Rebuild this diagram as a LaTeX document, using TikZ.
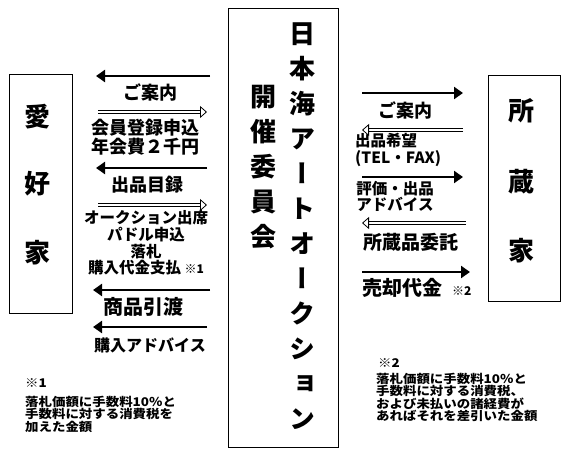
\documentclass[tikz,border=0pt]{standalone}
\usepackage{fontspec}
\newfontfamily\jp{Noto Sans CJK JP}
\newfontfamily\jpv{Noto Sans CJK JP}[RawFeature=+vert]
\newfontfamily\jpw{Noto Sans CJK JP}[FakeStretch=1.12]
\usetikzlibrary{arrows.meta, positioning}

\begin{document}
\begin{tikzpicture}[
    x=1pt, y=-1pt,
    party/.style={rectangle, draw, line width=0.9pt, inner sep=0pt},
    party text/.style={font=\jp\bfseries\fontsize{26}{26}\selectfont, inner sep=0pt},
    title text/.style={font=\jpv\bfseries\fontsize{26}{35}\selectfont, align=center, inner sep=0pt},
    flow text/.style={font=\jp\bfseries\fontsize{18}{19}\selectfont, align=center, inner sep=0pt},
    small flow text/.style={font=\jp\bfseries\fontsize{15.5}{16.7}\selectfont, align=center, inner sep=0pt},
    note text/.style={font=\jpw\bfseries\fontsize{12}{11}\selectfont, align=left, inner sep=0pt, anchor=west},
    solid arrow/.style={line width=2.5pt, -{Triangle[length=9pt, width=12pt]}},
    hollow arrow/.style={double, double distance=2.4pt, line width=0.7pt,
        -{Triangle[open, fill=white, length=7pt, width=12pt, line width=0.8pt]}}
]
    \useasboundingbox (0,0) rectangle (568,453);

    % Main boxes
    \node (fans) [party, minimum width=63pt, minimum height=239pt] at (40.5,193.5) {};
    \node (committee) [party, minimum width=110pt, minimum height=439pt] at (283,227.5) {};
    \node (owners) [party, minimum width=72pt, minimum height=226pt] at (524,188) {};

    % Box texts
    \node (fans1) [party text] at (37,117) {愛};
    \node (fans2) [party text] at (37,184) {好};
    \node (fans3) [party text] at (37,253) {家};
    \node (owners1) [party text] at (521,111) {所};
    \node (owners2) [party text] at (521,182) {蔵};
    \node (owners3) [party text] at (521,251) {家};
    \node (title) [title text] at (302,226.5) {日\\本\\海\\ア\\ー\\ト\\オ\\ー\\ク\\シ\\ョ\\ン};
    \node (host) [title text] at (263,167) {開\\催\\委\\員\\会};

    % Arrow ends, fans side
    \coordinate (c1s) at (210,76);  \coordinate (c1e) at (96,76);
    \coordinate (c2s) at (98,112);  \coordinate (c2e) at (207,112);
    \coordinate (c3s) at (207,168); \coordinate (c3e) at (96,168);
    \coordinate (c4s) at (98,205);  \coordinate (c4e) at (207,205);
    \coordinate (c5s) at (210,290); \coordinate (c5e) at (93,290);
    \coordinate (c6s) at (207,327); \coordinate (c6e) at (93,327);

    % Arrow ends, owners side
    \coordinate (d1s) at (362,93);  \coordinate (d1e) at (463,93);
    \coordinate (d2s) at (463,130); \coordinate (d2e) at (362,130);
    \coordinate (d3s) at (362,177); \coordinate (d3e) at (463,177);
    \coordinate (d4s) at (466,223); \coordinate (d4e) at (362,223);
    \coordinate (d5s) at (362,272); \coordinate (d5e) at (470,272);

    % Paths
    \draw[solid arrow] (c1s) -- (c1e);
    \draw[hollow arrow] (c2s) -- (c2e);
    \draw[solid arrow] (c3s) -- (c3e);
    \draw[hollow arrow] (c4s) -- (c4e);
    \draw[solid arrow] (c5s) -- (c5e);
    \draw[solid arrow] (c6s) -- (c6e);
    \draw[solid arrow] (d1s) -- (d1e);
    \draw[hollow arrow] (d2s) -- (d2e);
    \draw[solid arrow] (d3s) -- (d3e);
    \draw[hollow arrow] (d4s) -- (d4e);
    \draw[solid arrow] (d5s) -- (d5e);

    % Arrow labels, fans side
    \node (guide) [flow text] at (150,92) {ご案内};
    \node (join) [flow text] at (145,137.5) {会員登録申込\\年会費２千円};
    \node (catalog) [flow text] at (147,185) {出品目録};
    \node (bid) [small flow text] at (146,243) {オークション出席\\パドル申込\\落札\\購入代金支払 {\fontsize{12}{12}\selectfont ※1}};
    \node (deliver) [flow text, font=\jp\bfseries\fontsize{20}{20}\selectfont] at (143,307) {商品引渡};
    \node (advice) [small flow text, font=\jp\bfseries\fontsize{16}{16}\selectfont] at (150,345) {購入アドバイス};

    % Arrow labels, owners side
    \node (guide2) [flow text] at (405,110) {ご案内};
    \node (wish) [small flow text, align=left, anchor=west] at (355,150) {出品希望\\(TEL・FAX)};
    \node (appraise) [small flow text] at (395,196.5) {評価・出品\\アドバイス};
    \node (consign) [flow text, font=\jp\bfseries\fontsize{19}{19}\selectfont] at (411,242) {所蔵品委託};
    \node (payout) [flow text, font=\jp\bfseries\fontsize{20}{20}\selectfont, anchor=west] at (362,288) {売却代金\hspace{10pt}{\fontsize{12}{12}\selectfont ※2}};

    % Notes
    \node (note1) [note text] at (25,383) {※1};
    \node (note1text) [note text] at (25,414) {落札価額に手数料10％と\\手数料に対する消費税を\\加えた金額};
    \node (note2) [note text] at (378,363) {※2};
    \node (note2text) [note text, font=\jpw\bfseries\fontsize{12}{10.5}\selectfont] at (376,397.5) {落札価額に手数料10％と\\手数料に対する消費税、\\および未払いの諸経費が\\あればそれを差引いた金額};
\end{tikzpicture}
\end{document}
